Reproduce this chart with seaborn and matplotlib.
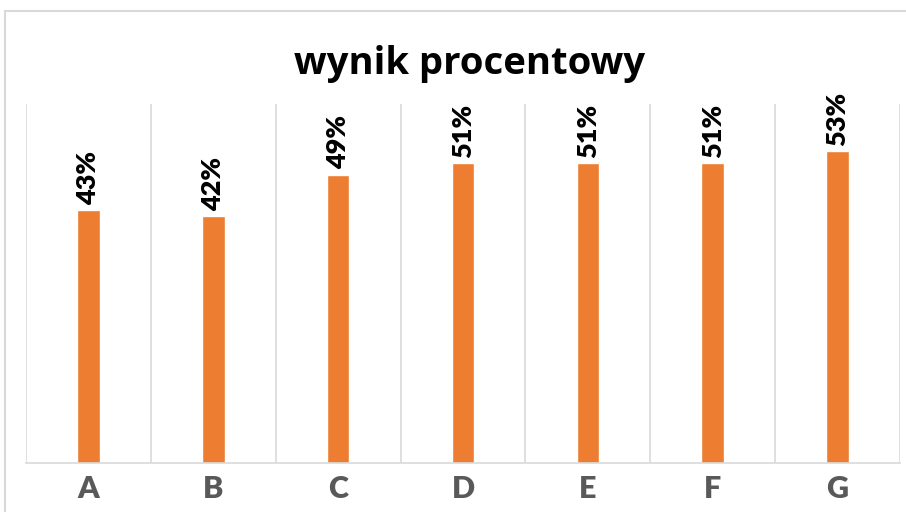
import pandas as pd
import matplotlib.pyplot as plt
import seaborn as sns
from matplotlib.patches import Rectangle

# Values
categories = ["A", "B", "C", "D", "E", "F", "G"]
percent = [43, 42, 49, 51, 51, 51, 53]
labels = ["43%", "42%", "49%", "51%", "51%", "51%", "53%"]

df = pd.DataFrame({"kategoria": categories, "wynik": percent})

sns.set_style("white")
plt.rcParams["font.family"] = ["Lato", "DejaVu Sans"]

fig = plt.figure(figsize=(9.06, 5.12), dpi=100)
ax = fig.add_axes([26 / 906, 49 / 512, 874 / 906, 359 / 512])

sns.barplot(data=df, x="kategoria", y="wynik", color="#ED7D31",
            width=0.18, saturation=1, ax=ax)

ax.set_ylim(0, 61)
ax.set_xlim(-0.5, len(categories) - 0.5)

# vertical gridlines between categories
for b in range(len(categories) + 1):
    ax.axvline(b - 0.5, color="#d9d9d9", lw=1.2, zorder=0)

# value labels above bars
for i, (v, lab) in enumerate(zip(percent, labels)):
    ax.text(i, v + 0.9, lab, rotation=90, ha="center", va="bottom",
            fontsize=19.5, fontweight="heavy", color="black")

for s in ["top", "left", "right"]:
    ax.spines[s].set_visible(False)
ax.spines["bottom"].set_color("#d9d9d9")
ax.spines["bottom"].set_linewidth(1.2)
ax.set_yticks([])
ax.set_xlabel("")
ax.set_ylabel("")
ax.tick_params(axis="x", length=0, pad=9, labelsize=22, labelcolor="#595959")
for t in ax.get_xticklabels():
    t.set_fontweight("heavy")

fig.text(470 / 906, 1 - 64 / 512, "wynik procentowy", ha="center", va="center",
         fontsize=27.5, fontweight="bold", color="black", family=["Open Sans", "DejaVu Sans"])

# chart border
fig.patches.append(Rectangle((4.5 / 906, -0.1), 1.2, 1.1 - 11 / 512, transform=fig.transFigure,
                             fill=False, edgecolor="#d9d9d9", lw=1.5))

plt.savefig("out.png", dpi=100)
